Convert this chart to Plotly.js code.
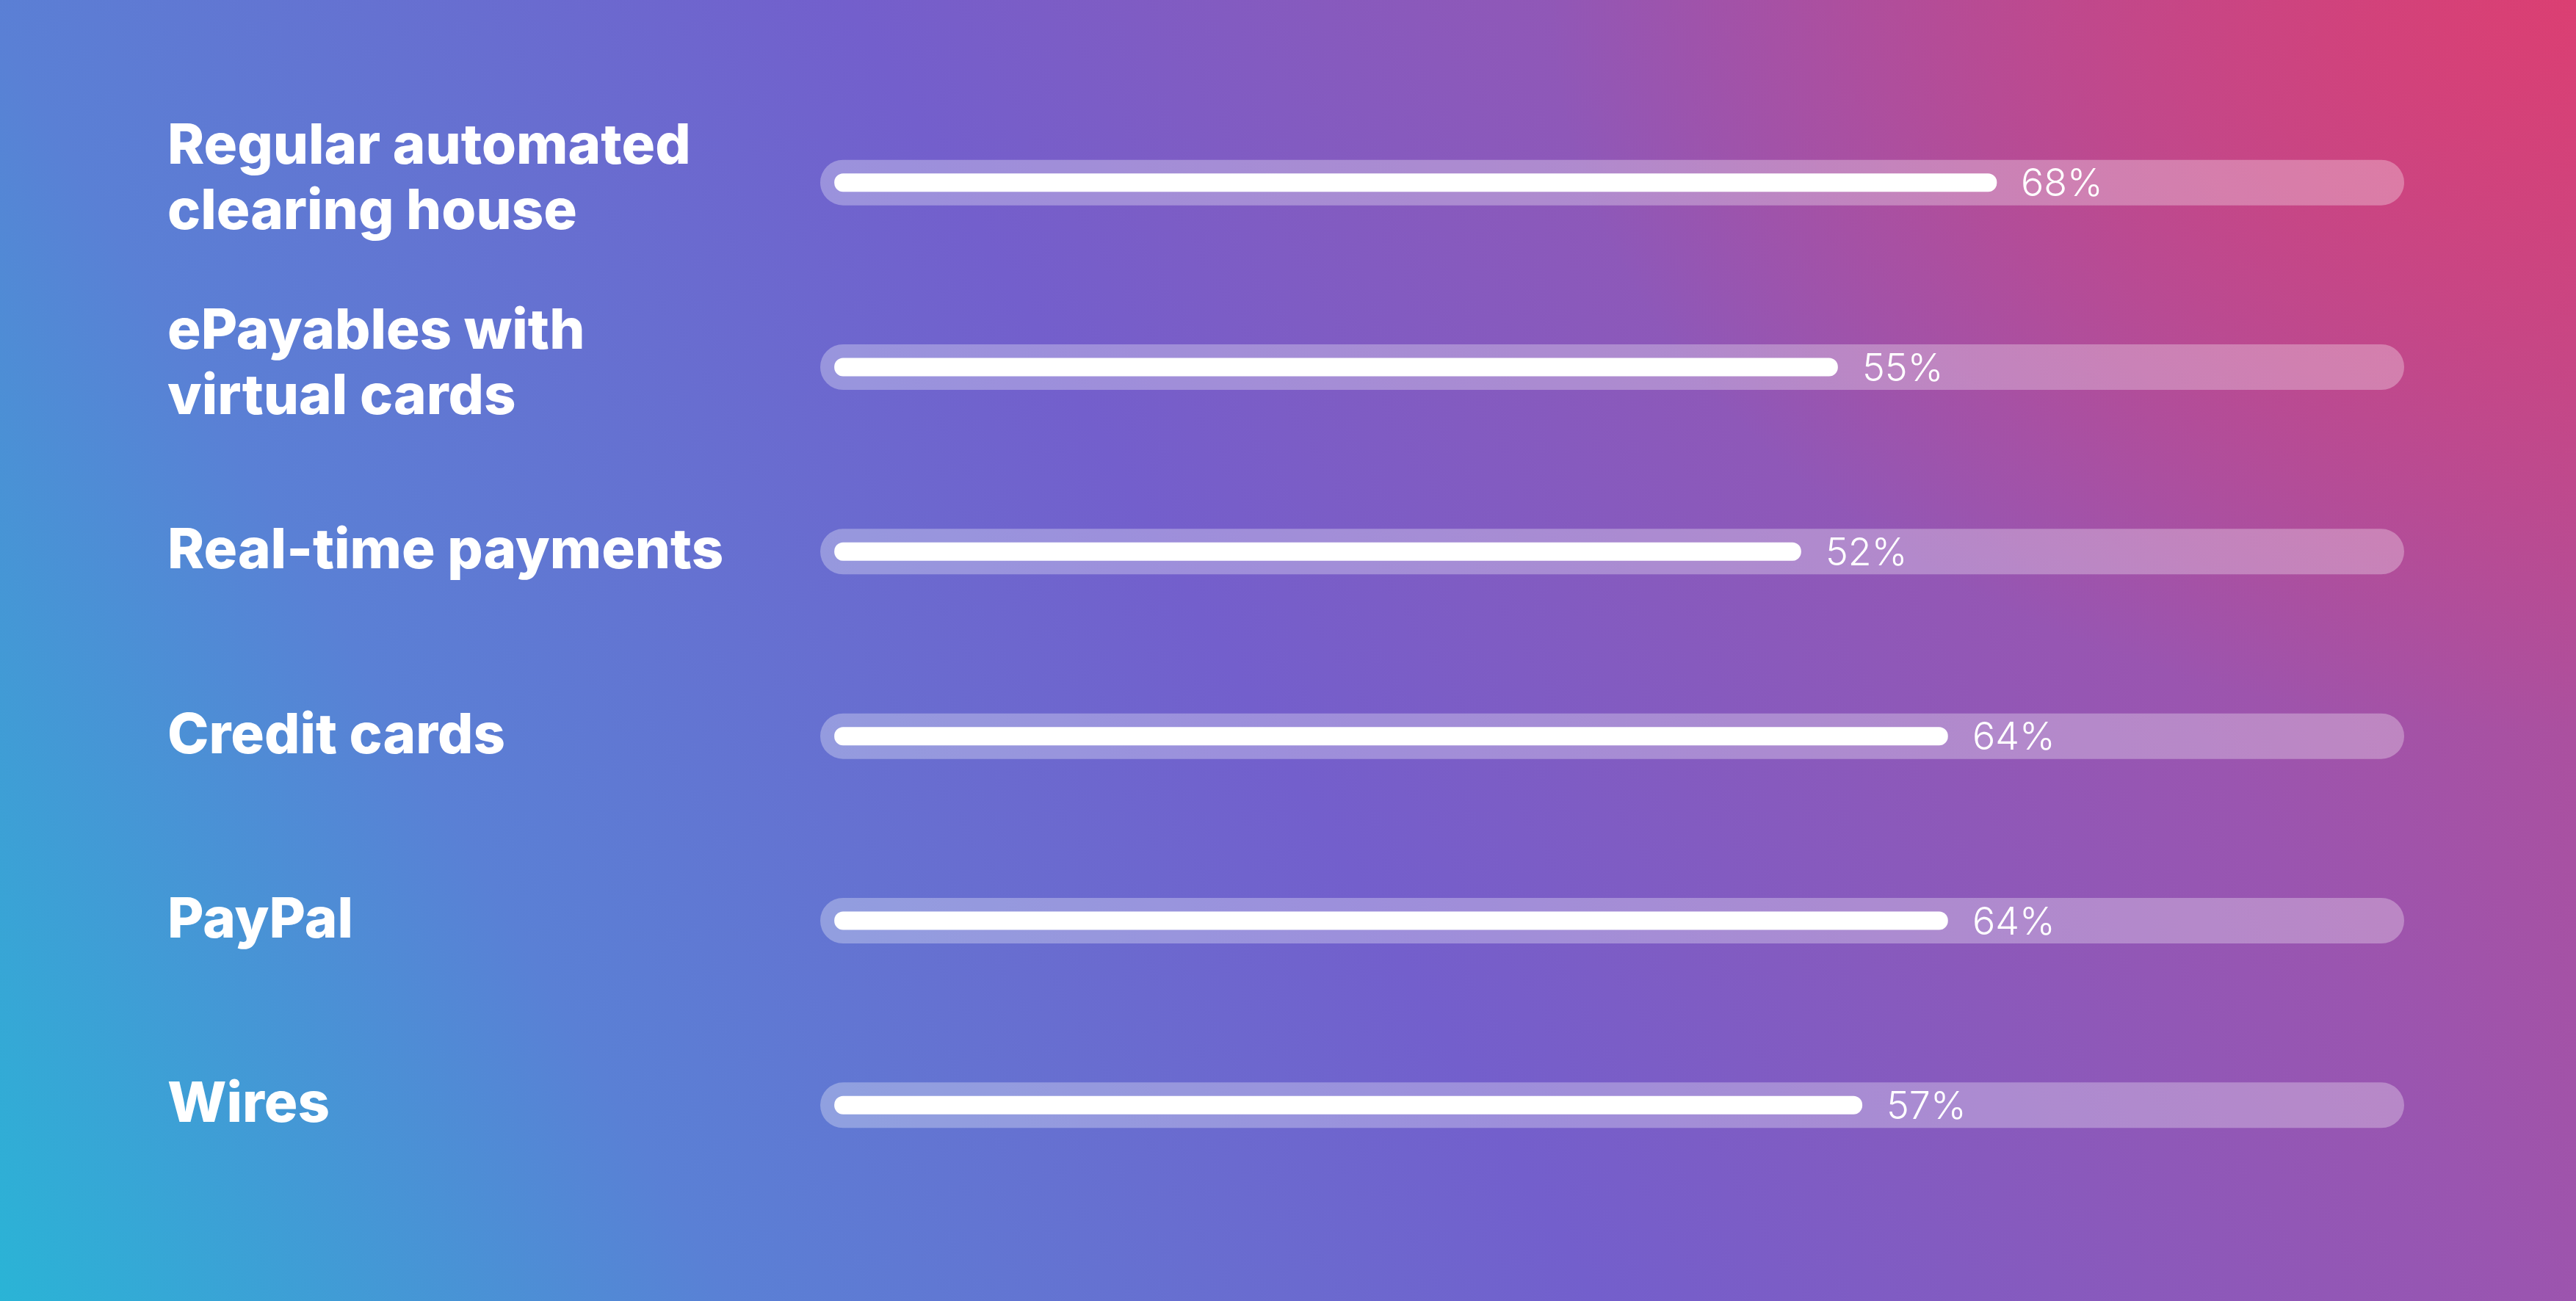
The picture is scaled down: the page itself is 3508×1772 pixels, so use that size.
<!DOCTYPE html>
<html>
<head>
<meta charset="utf-8">
<script src="https://cdn.plot.ly/plotly-3.0.1.min.js"></script>
<style>
html, body { margin: 0; padding: 0; width: 3508px; height: 1772px; overflow: hidden; }
#chart {
  width: 3508px; height: 1772px;
  background:
    radial-gradient(ellipse 1400px 1000px at 100% 0%, rgba(226, 60, 108, 0.8), rgba(226, 60, 108, 0) 100%),
    linear-gradient(60deg, #2ab4d6 0%, #5a80d5 22%, #735fcc 48%, #9a55b0 76%, #bf4a8c 100%);
}
</style>
</head>
<body>
<div id="chart"></div>
<script>
// ---- data ----
const categories = [
  "Regular automated<br>clearing house",
  "ePayables with<br>virtual cards",
  "Real-time payments",
  "Credit cards",
  "PayPal",
  "Wires"
];
const values = [68, 55, 52, 64, 64, 57];
const valueLabels = values.map(v => v + "%");

// ---- layout constants (scale & styling) ----
const TRACK_START = -28.2;   // left end of the translucent track (axis units)
const TRACK_END = 101.3;     // right end of the translucent track
const BAR_START = -27.05;    // left end of the white bars
const W = 3508, H = 1772;
const M = { l: 1117, r: W - 3274, t: 123, b: 141, pad: 0 };
const plotW = W - M.l - M.r;
const LABEL_X_PX = 226;
const LINE_H = 89;

const n = categories.length;

function barTrace(base, xvals, width, color) {
  return {
    type: 'bar', orientation: 'h',
    y: categories, x: xvals, base: base, width: width,
    marker: { color: color, cornerradius: '50%', line: { width: 0 } },
    hoverinfo: 'skip', showlegend: false
  };
}

const TRACK_COLOR = 'rgba(255,255,255,0.3)';
const traces = [
  // translucent track spanning the full scale
  barTrace(TRACK_START, categories.map(() => TRACK_END - TRACK_START), 0.247, TRACK_COLOR),
  // white value bar, from the bar start up to the value
  barTrace(BAR_START, values.map(v => v - BAR_START), 0.0995, '#ffffff')
];

const annotations = [];
values.forEach((v, i) => {
  annotations.push({
    xref: 'x', yref: 'y', x: v, y: categories[i],
    xanchor: 'left', yanchor: 'middle', xshift: 31,
    text: valueLabels[i], showarrow: false,
    font: { family: 'Inter, "Noto Sans", sans-serif', size: 52, weight: 300, color: '#ffffff' }
  });
});
categories.forEach((c, i) => {
  const lines = c.split('<br>');
  lines.forEach((ln, j) => {
    annotations.push({
      xref: 'paper', yref: 'y',
      x: (LABEL_X_PX - M.l) / plotW, y: c,
      xanchor: 'left', yanchor: 'middle',
      yshift: ((lines.length - 1) / 2 - j) * LINE_H + (lines.length > 1 ? 9 : 5),
      text: ln, showarrow: false, align: 'left',
      font: { family: 'Inter, "Noto Sans", sans-serif', size: 76, weight: 800, color: '#ffffff' }
    });
  });
});

const layout = {
  width: W, height: H,
  margin: M,
  paper_bgcolor: 'rgba(0,0,0,0)',
  plot_bgcolor: 'rgba(0,0,0,0)',
  barmode: 'overlay',
  showlegend: false,
  xaxis: { range: [TRACK_START, TRACK_END], visible: false, fixedrange: true },
  yaxis: { type: 'category', range: [n - 0.5, -0.5], visible: false, fixedrange: true },
  annotations: annotations
};

Plotly.newPlot('chart', traces, layout, { displayModeBar: false, responsive: false });
</script>
</body>
</html>
